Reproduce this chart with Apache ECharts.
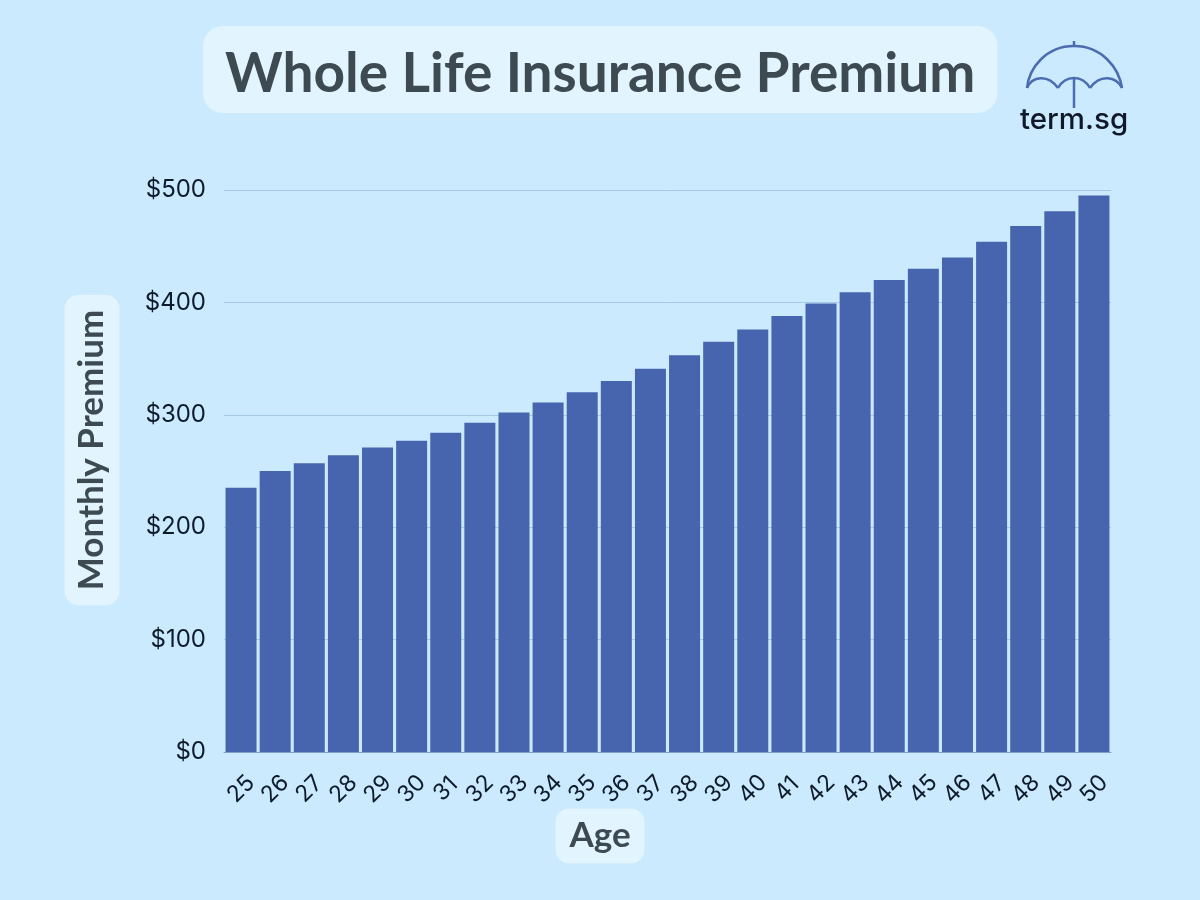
<!DOCTYPE html>
<html lang="en">
<head>
    <meta charset="UTF-8">
    <title>Whole Life Insurance Premium</title>
    <script src="https://cdn.jsdelivr.net/npm/echarts@6/dist/echarts.min.js"></script>
</head>
<style>
html,body{margin: 0;padding: 0;background-color: #cbeafe}
#chartBox{width: 1200px;height: 900px}
</style>
<body>
    <div id="chartBox"></div>
</body>
<script>
const ages = ['25','26','27','28','29','30','31','32','33','34','35','36','37','38','39','40','41','42','43','44','45','46','47','48','49','50'];
const premiums = [235,250,257,264,271,277,284,293,302,311,320,330,341,353,365,376,388,399,409,420,430,440,454,468,481,495];
const yTicks = [0,100,200,300,400,500];
const titleText = 'Whole Life Insurance Premium';
const xName = 'Age';
const yName = 'Monthly Premium';
const logoText = 'term.sg';

const pillColor = '#e2f4fe';
const textColor = '#3d4a52';
const labelColor = '#0e1b2b';
const barColor = '#4765ae';
const logoColor = '#4c6cb0';

// logo的线段样式
const logoStroke = {fill: 'none', stroke: logoColor, lineWidth: 2.5};
function logoCurve(x1, y1, cpx1, cpy1, cpx2, cpy2, x2, y2) {
    return {
        type: 'bezierCurve',
        shape: {x1: x1, y1: y1, cpx1: cpx1, cpy1: cpy1, cpx2: cpx2, cpy2: cpy2, x2: x2, y2: y2},
        style: logoStroke
    };
}
function logoLine(x1, y1, x2, y2) {
    return {type: 'line', shape: {x1: x1, y1: y1, x2: x2, y2: y2}, style: logoStroke};
}
// 坐标轴名称的圆角标签，位置不在绘图区中心，所以单独画
function axisPill(text, x, y, rotation, padding) {
    return {
        type: 'text',
        x: x,
        y: y,
        rotation: rotation,
        style: {
            text: text,
            align: 'center',
            verticalAlign: 'middle',
            fontFamily: 'Lato',
            fontWeight: 'bold',
            fontSize: 35,
            fill: textColor,
            backgroundColor: pillColor,
            borderRadius: 14,
            padding: padding
        }
    };
}

let chartObj = echarts.init(document.getElementById('chartBox'));
chartObj.setOption({
    backgroundColor: '#cbeafe',
    animation: false,
    title: {
        text: titleText,
        left: 203,
        top: 26,
        padding: [16, 22, 6, 22],
        backgroundColor: pillColor,
        borderRadius: 20,
        textStyle: {fontFamily: 'Lato', fontWeight: 'bold', fontSize: 55, lineHeight: 65, color: textColor}
    },
    grid: {left: 224, right: 89, top: 190, bottom: 148},
    xAxis: {
        type: 'category',
        data: ages,
        axisLine: {lineStyle: {color: '#7f9fcb', width: 1}},
        axisTick: {show: false},
        axisLabel: {
            interval: 0, rotate: 45, margin: 37,
            align: 'center', verticalAlign: 'middle',
            fontFamily: 'Inter', fontSize: 23, color: labelColor
        }
    },
    yAxis: {
        type: 'value',
        min: yTicks[0],
        max: yTicks[yTicks.length - 1],
        interval: 100,
        axisLine: {show: false},
        axisTick: {show: false},
        axisLabel: {
            margin: 18,
            fontFamily: 'Inter', fontSize: 24, color: labelColor,
            formatter: '${value}'
        },
        splitLine: {lineStyle: {color: '#a6cae4', width: 1}}
    },
    series: [{
        type: 'bar',
        data: premiums,
        barWidth: 31,
        itemStyle: {color: barColor}
    }],
    graphic: [
        axisPill(xName, 600, 836, 0, [10, 14, 10, 14]),
        axisPill(yName, 92, 450, Math.PI / 2, [10, 15, 10, 15]),
        // 右上角的伞形logo
        logoCurve(1027, 88, 1029, 68, 1046, 46, 1074, 46),
        logoCurve(1074, 46, 1102, 46, 1119, 68, 1122, 88),
        logoCurve(1027, 88, 1032, 76, 1048, 74, 1058, 88),
        logoCurve(1058, 88, 1062, 81, 1068, 78, 1074, 78),
        logoCurve(1074, 78, 1080, 78, 1086, 81, 1090, 88),
        logoCurve(1090, 88, 1100, 74, 1116, 76, 1122, 88),
        logoLine(1074, 41, 1074, 46),
        logoLine(1074, 78, 1074, 108),
        {
            type: 'text',
            x: 1020,
            y: 105,
            style: {text: logoText, fontFamily: 'Inter', fontWeight: 500, fontSize: 29.5, fill: '#10182a'}
        }
    ]
});
</script>
</html>
